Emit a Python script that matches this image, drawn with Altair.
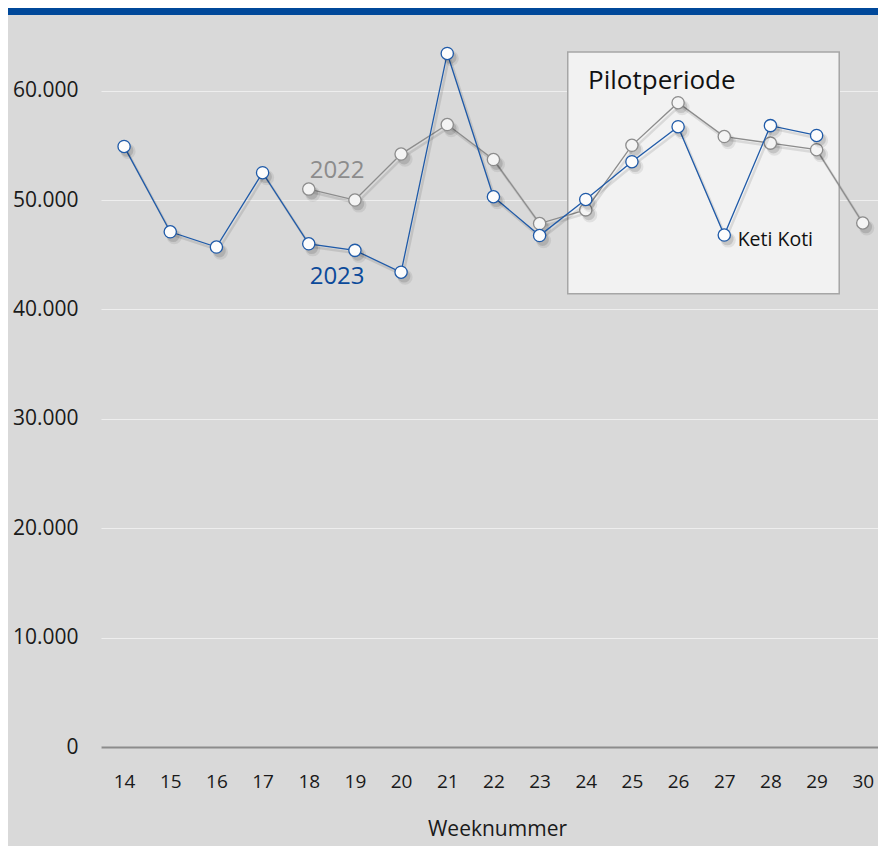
import altair as alt
import pandas as pd

# ---- data ----
weeks_2023 = [14, 15, 16, 17, 18, 19, 20, 21, 22, 23, 24, 25, 26, 27, 28, 29]
vals_2023 = [54900, 47100, 45700, 52500, 46000, 45400, 43400, 63400, 50300,
             46750, 50050, 53500, 56700, 46800, 56800, 55900]
weeks_2022 = [18, 19, 20, 21, 22, 23, 24, 25, 26, 27, 28, 29, 30]
vals_2022 = [51000, 50000, 54200, 56900, 53700, 47850, 49100, 55000, 58900,
             55800, 55200, 54600, 47900]
x_ticks = list(range(14, 31))
y_ticks = [0, 10000, 20000, 30000, 40000, 50000, 60000]

pilot_box = {"x": [23.61], "x2": [29.49], "y": [63540], "y2": [41430]}

FONT = "Open Sans"
BLUE = "#1f5aa8"
GRAY = "#8c8c8c"

d23 = pd.DataFrame({"week": weeks_2023, "value": vals_2023})
d22 = pd.DataFrame({"week": weeks_2022, "value": vals_2022})
box = pd.DataFrame(pilot_box)

xscale = alt.Scale(domain=[13.5, 30.33], nice=False, zero=False)
yscale = alt.Scale(domain=[0, 66000], nice=False)

X = alt.X("week:Q", scale=xscale, title="Weeknummer",
          axis=alt.Axis(values=x_ticks, format="d", grid=False, ticks=False,
                        domainColor="#8c8c8c", domainWidth=2,
                        labelPadding=25, labelFontSize=19, titleFontSize=21,
                        titleFontWeight="normal", titlePadding=27,
                        titleX=396, titleAlign="center",
                        labelColor="#1a1a1a", titleColor="#1a1a1a"))
Y = alt.Y("value:Q", scale=yscale, title=None,
          axis=alt.Axis(values=y_ticks, domain=False, ticks=False,
                        gridColor="#eeeeee", gridWidth=1,
                        labelPadding=23, labelFontSize=21,
                        labelColor="#1a1a1a",
                        labelExpr="replace(format(datum.value, ','), ',', '.')"))

base23 = alt.Chart(d23)
base22 = alt.Chart(d22)

banner = alt.Chart(pd.DataFrame({"a": [0]})).mark_rect(color="#00489a").encode(
    x=alt.value(-93), x2=alt.value(777), y=alt.value(-17), y2=alt.value(-10))

box_layer = alt.Chart(box).mark_rect(fill="#f2f2f2", stroke="#a6a6a6",
                                     strokeWidth=1.5).encode(
    x=alt.X("x:Q", scale=xscale), x2="x2:Q",
    y=alt.Y("y:Q", scale=yscale), y2="y2:Q")

def series(base, color, fill):
    line_sh = base.mark_line(color="black", opacity=0.10, strokeWidth=2.5,
                             xOffset=2, yOffset=3).encode(x=X, y=Y)
    line = base.mark_line(color=color, strokeWidth=1.3).encode(x=X, y=Y)
    sh1 = base.mark_circle(color="black", opacity=0.07, size=230,
                           xOffset=4, yOffset=5).encode(x=X, y=Y)
    sh2 = base.mark_circle(color="black", opacity=0.12, size=160,
                           xOffset=3, yOffset=4).encode(x=X, y=Y)
    pts = base.mark_point(shape="circle", filled=True, fill=fill, stroke=color,
                          strokeWidth=1.3, size=150, opacity=1).encode(x=X, y=Y)
    return [line_sh, line, sh1, sh2, pts]

labels = pd.DataFrame({
    "week": [24.05, 27.29, 18.02, 18.02],
    "value": [60180, 45800, 52040, 42300],
    "text": ["Pilotperiode", "Keti Koti", "2022", "2023"],
    "size": [26, 19.5, 24, 24],
    "color": ["#111111", "#111111", "#8c8c8c", "#0b4a9a"],
})
text_layer = alt.Chart(labels).mark_text(align="left", baseline="alphabetic",
                                         font=FONT).encode(
    x=alt.X("week:Q", scale=xscale),
    y=alt.Y("value:Q", scale=yscale),
    text="text:N",
    size=alt.Size("size:Q", scale=None, legend=None),
    color=alt.Color("color:N", scale=None, legend=None))

chart = alt.layer(
    banner, box_layer,
    *series(base22, GRAY, "#f4f4f4"),
    *series(base23, BLUE, "#fcfcfc"),
    text_layer,
).properties(
    width=777, height=722, background="#d9d9d9",
    padding={"left": 93, "top": 17, "right": 0, "bottom": 99},
    autosize=alt.AutoSizeParams(type="none"),
).configure_view(strokeWidth=0).configure_axis(
    labelFont=FONT, titleFont=FONT)

chart.save("out.html", embed_options={"renderer": "svg", "actions": False})
